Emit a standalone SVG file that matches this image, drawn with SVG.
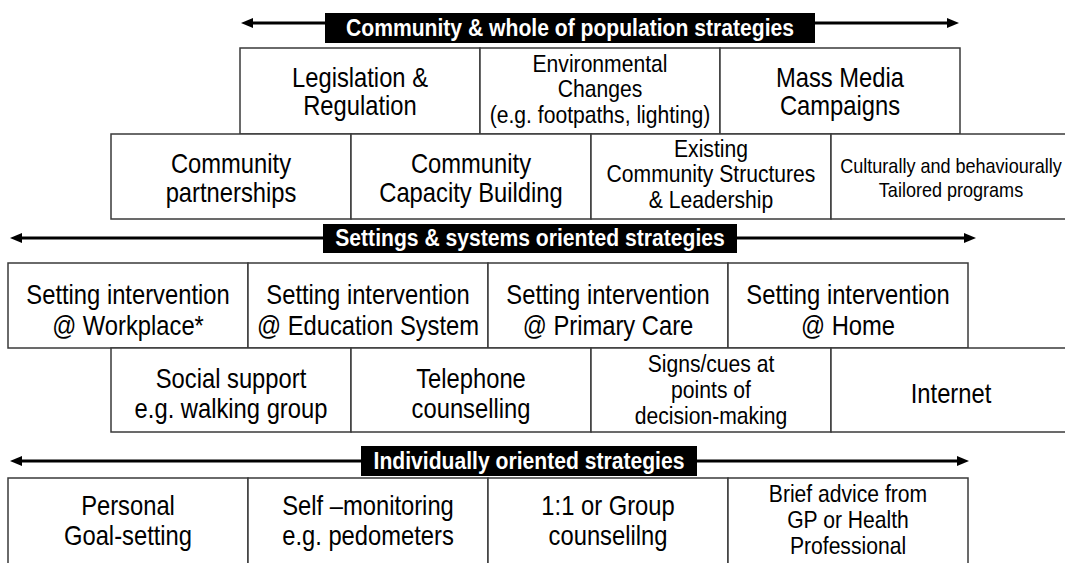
<svg xmlns="http://www.w3.org/2000/svg" width="1065" height="563" viewBox="0 0 1065 563">
  <style>
    .cell { fill: #ffffff; stroke: #3a3a3a; stroke-width: 1.5; }
    .band { fill: #000000; }
    .t { font-family: "Liberation Sans", Arial, sans-serif; font-size: 27px; fill: #000000; text-anchor: middle; }
    .s { font-family: "Liberation Sans", Arial, sans-serif; font-size: 24px; fill: #000000; text-anchor: middle; }
    .xs { font-family: "Liberation Sans", Arial, sans-serif; font-size: 20.5px; fill: #000000; text-anchor: middle; }
    .h { font-family: "Liberation Sans", Arial, sans-serif; font-size: 24px; font-weight: bold; fill: #ffffff; text-anchor: middle; }
    .arrow { stroke: #000000; stroke-width: 3; fill: none; marker-start: url(#head); marker-end: url(#head); }
  </style>
  <defs>
    <marker id="head" viewBox="0 0 12 10" refX="0" refY="5" markerWidth="12" markerHeight="10" markerUnits="userSpaceOnUse" orient="auto-start-reverse">
      <path d="M0,0 L12,5 L0,10 z" fill="#000000"/>
    </marker>
  </defs>

  <rect width="1065" height="563" fill="#ffffff"/>

  <!-- double-headed scope arrows behind the band labels -->
  <g id="connectors">
    <path class="arrow" d="M253,23 H947"/>
    <path class="arrow" d="M22,238 H964"/>
    <path class="arrow" d="M22,461 H957"/>
  </g>

  <!-- band labels -->
  <g id="band-community">
    <rect class="band" x="325" y="13" width="490" height="30"/>
    <text class="h" transform="translate(570 0) scale(0.88 1)" x="0" y="36">Community &amp; whole of population strategies</text>
  </g>
  <g id="band-settings">
    <rect class="band" x="323" y="224" width="414" height="29"/>
    <text class="h" transform="translate(530 0) scale(0.88 1)" x="0" y="246">Settings &amp; systems oriented strategies</text>
  </g>
  <g id="band-individual">
    <rect class="band" x="361" y="446" width="336" height="30"/>
    <text class="h" transform="translate(529 0) scale(0.88 1)" x="0" y="469">Individually oriented strategies</text>
  </g>

  <!-- row 1: population level -->
  <g id="legislation">
    <rect class="cell" x="240" y="48" width="240" height="86"/>
    <text class="t" transform="translate(360 0) scale(0.88 1)"><tspan x="0" y="87">Legislation &amp;</tspan><tspan x="0" y="115">Regulation</tspan></text>
  </g>
  <g id="environmental">
    <rect class="cell" x="480" y="48" width="240" height="86"/>
    <text class="s" transform="translate(600 0) scale(0.88 1)"><tspan x="0" y="72">Environmental</tspan><tspan x="0" y="97">Changes</tspan><tspan x="0" y="123">(e.g. footpaths, lighting)</tspan></text>
  </g>
  <g id="mass-media">
    <rect class="cell" x="720" y="48" width="240" height="86"/>
    <text class="t" transform="translate(840 0) scale(0.88 1)"><tspan x="0" y="87">Mass Media</tspan><tspan x="0" y="115">Campaigns</tspan></text>
  </g>

  <!-- row 2: community level -->
  <g id="partnerships">
    <rect class="cell" x="111" y="134" width="240" height="85"/>
    <text class="t" transform="translate(231 0) scale(0.88 1)"><tspan x="0" y="173">Community</tspan><tspan x="0" y="202">partnerships</tspan></text>
  </g>
  <g id="capacity">
    <rect class="cell" x="351" y="134" width="240" height="85"/>
    <text class="t" transform="translate(471 0) scale(0.88 1)"><tspan x="0" y="173">Community</tspan><tspan x="0" y="202">Capacity Building</tspan></text>
  </g>
  <g id="structures">
    <rect class="cell" x="591" y="134" width="240" height="85"/>
    <text class="s" transform="translate(711 0) scale(0.88 1)"><tspan x="0" y="157">Existing</tspan><tspan x="0" y="182">Community Structures</tspan><tspan x="0" y="208">&amp; Leadership</tspan></text>
  </g>
  <g id="tailored">
    <rect class="cell" x="831" y="134" width="240" height="85"/>
    <text class="xs" transform="translate(951 0) scale(0.88 1)"><tspan x="0" y="173">Culturally and behaviourally</tspan><tspan x="0" y="197">Tailored programs</tspan></text>
  </g>

  <!-- row 3: settings -->
  <g id="workplace">
    <rect class="cell" x="8" y="263" width="240" height="85"/>
    <text class="t" transform="translate(128 0) scale(0.88 1)"><tspan x="0" y="304">Setting intervention</tspan><tspan x="0" y="335">@ Workplace*</tspan></text>
  </g>
  <g id="education">
    <rect class="cell" x="248" y="263" width="240" height="85"/>
    <text class="t" transform="translate(368 0) scale(0.88 1)"><tspan x="0" y="304">Setting intervention</tspan><tspan x="0" y="335">@ Education System</tspan></text>
  </g>
  <g id="primary-care">
    <rect class="cell" x="488" y="263" width="240" height="85"/>
    <text class="t" transform="translate(608 0) scale(0.88 1)"><tspan x="0" y="304">Setting intervention</tspan><tspan x="0" y="335">@ Primary Care</tspan></text>
  </g>
  <g id="home">
    <rect class="cell" x="728" y="263" width="240" height="85"/>
    <text class="t" transform="translate(848 0) scale(0.88 1)"><tspan x="0" y="304">Setting intervention</tspan><tspan x="0" y="335">@ Home</tspan></text>
  </g>

  <!-- row 4: systems -->
  <g id="social-support">
    <rect class="cell" x="111" y="348" width="240" height="84"/>
    <text class="t" transform="translate(231 0) scale(0.88 1)"><tspan x="0" y="388">Social support</tspan><tspan x="0" y="418">e.g. walking group</tspan></text>
  </g>
  <g id="telephone">
    <rect class="cell" x="351" y="348" width="240" height="84"/>
    <text class="t" transform="translate(471 0) scale(0.88 1)"><tspan x="0" y="388">Telephone</tspan><tspan x="0" y="418">counselling</tspan></text>
  </g>
  <g id="signs">
    <rect class="cell" x="591" y="348" width="240" height="84"/>
    <text class="s" transform="translate(711 0) scale(0.88 1)"><tspan x="0" y="372">Signs/cues at</tspan><tspan x="0" y="398">points of</tspan><tspan x="0" y="424">decision-making</tspan></text>
  </g>
  <g id="internet">
    <rect class="cell" x="831" y="348" width="240" height="84"/>
    <text class="t" transform="translate(951 0) scale(0.88 1)" x="0" y="403">Internet</text>
  </g>

  <!-- row 5: individual -->
  <g id="goal-setting">
    <rect class="cell" x="8" y="478" width="240" height="90"/>
    <text class="t" transform="translate(128 0) scale(0.88 1)"><tspan x="0" y="515">Personal</tspan><tspan x="0" y="545">Goal-setting</tspan></text>
  </g>
  <g id="self-monitoring">
    <rect class="cell" x="248" y="478" width="240" height="90"/>
    <text class="t" transform="translate(368 0) scale(0.88 1)"><tspan x="0" y="515">Self –monitoring</tspan><tspan x="0" y="545">e.g. pedometers</tspan></text>
  </g>
  <g id="counselling">
    <rect class="cell" x="488" y="478" width="240" height="90"/>
    <text class="t" transform="translate(608 0) scale(0.88 1)"><tspan x="0" y="515">1:1 or Group</tspan><tspan x="0" y="545">counselilng</tspan></text>
  </g>
  <g id="brief-advice">
    <rect class="cell" x="728" y="478" width="240" height="90"/>
    <text class="s" transform="translate(848 0) scale(0.88 1)"><tspan x="0" y="502">Brief advice from</tspan><tspan x="0" y="528">GP or Health</tspan><tspan x="0" y="554">Professional</tspan></text>
  </g>
</svg>
